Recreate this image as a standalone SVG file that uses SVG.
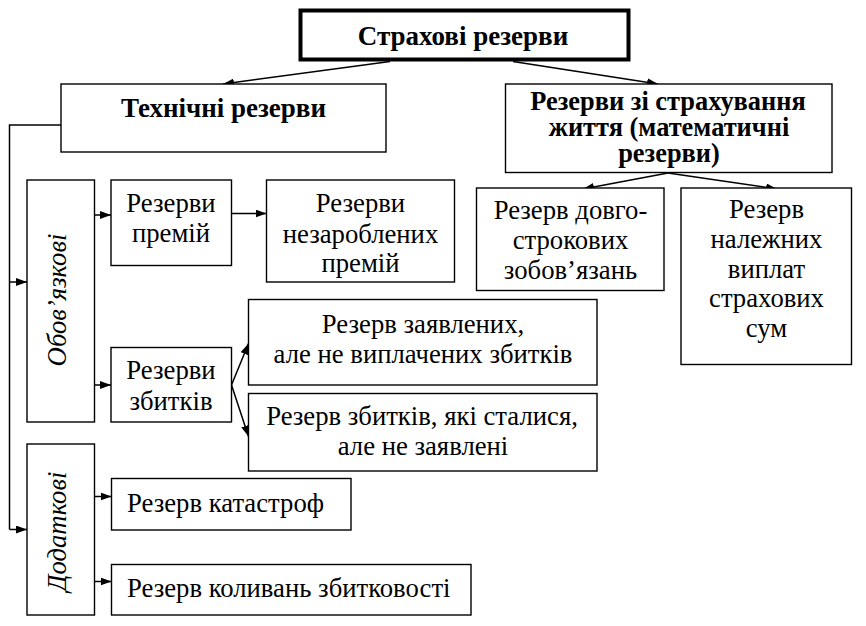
<svg xmlns="http://www.w3.org/2000/svg" width="866" height="626" viewBox="0 0 866 626">
<defs>
<marker id="ah" viewBox="0 0 11 8" refX="11" refY="4" markerWidth="11" markerHeight="8" markerUnits="userSpaceOnUse" orient="auto">
<path d="M0,0 L11,4 L0,8 Z" fill="#000"/>
</marker>
</defs>
<style>
.b{fill:#fff;stroke:#000;stroke-width:1.4}
.t{font-family:"Liberation Serif","Times New Roman","DejaVu Serif",serif;font-size:26.7px;fill:#000;text-anchor:middle}
.l{text-anchor:start}
.i{font-style:italic}
.bd{font-weight:bold;font-size:27px}
.bs{font-size:26.4px}
.c{fill:none;stroke:#000;stroke-width:1.5}
.a{marker-end:url(#ah)}
</style>
<rect width="866" height="626" fill="#fff"/>
<g id="connectors">
<line class="c a" x1="390" y1="61.5" x2="223" y2="84"/>
<line class="c a" x1="513" y1="61.5" x2="658" y2="84"/>
<polyline class="c" points="61,125 9.5,125 9.5,529.5"/>
<line class="c a" x1="9.5" y1="282" x2="27" y2="282"/>
<line class="c a" x1="9.5" y1="529.5" x2="27" y2="529.5"/>
<line class="c a" x1="94.5" y1="215" x2="111" y2="215"/>
<line class="c a" x1="231.5" y1="213.5" x2="266.5" y2="213.5"/>
<line class="c a" x1="94.5" y1="385" x2="111" y2="385"/>
<line class="c a" x1="231.5" y1="385" x2="248.5" y2="343.5"/>
<line class="c a" x1="231.5" y1="385" x2="248.5" y2="436.5"/>
<line class="c a" x1="94.5" y1="496.5" x2="111.5" y2="496.5"/>
<line class="c a" x1="94.5" y1="581.5" x2="111.5" y2="581.5"/>
<line class="c a" x1="668" y1="173" x2="583" y2="189"/>
<line class="c a" x1="668" y1="173" x2="777" y2="189"/>
</g>
<g id="root">
<rect x="300.5" y="10.5" width="328" height="49" fill="#fff" stroke="#000" stroke-width="4"/>
<text class="t bd" x="463" y="45">Страхові резерви</text>
</g>
<g id="technical">
<rect class="b" x="61" y="84" width="325" height="68"/>
<text class="t bd" x="223.5" y="117">Технічні резерви</text>
</g>
<g id="life">
<rect class="b" x="505.5" y="84" width="326.5" height="88.5"/>
<text class="t bd bs"><tspan x="668" y="109.5">Резерви зі страхування</tspan><tspan x="669" y="135.5">життя (математичні</tspan><tspan x="669" y="161.5">резерви)</tspan></text>
</g>
<g id="mandatory">
<rect class="b" x="27" y="180" width="67.5" height="242"/>
<text class="t i" transform="translate(66,300) rotate(-90)">Обов’язкові</text>
</g>
<g id="additional">
<rect class="b" x="27" y="444" width="67.5" height="171"/>
<text class="t i" transform="translate(66,531.5) rotate(-90)">Додаткові</text>
</g>
<g id="premiums">
<rect class="b" x="111" y="180" width="120.5" height="85.5"/>
<text class="t" x="171" y="211.5">Резерви</text>
<text class="t" x="171" y="241.5">премій</text>
</g>
<g id="unearned">
<rect class="b" x="266.5" y="180" width="188" height="102"/>
<text class="t" x="360.5" y="211.5">Резерви</text>
<text class="t" x="360.5" y="242.5">незароблених</text>
<text class="t" x="360.5" y="272">премій</text>
</g>
<g id="losses">
<rect class="b" x="111" y="347.5" width="120.5" height="74.5"/>
<text class="t" x="171" y="378.5">Резерви</text>
<text class="t" x="171" y="409.5">збитків</text>
</g>
<g id="reported">
<rect class="b" x="248.5" y="299.5" width="348.5" height="85.5"/>
<text class="t" x="423" y="333">Резерв заявлених,</text>
<text class="t" x="423" y="363">але не виплачених збитків</text>
</g>
<g id="ibnr">
<rect class="b" x="248.5" y="393.5" width="348.5" height="77.5"/>
<text class="t" x="422" y="425">Резерв збитків, які сталися,</text>
<text class="t" x="423" y="455">але не заявлені</text>
</g>
<g id="catastrophe">
<rect class="b" x="111.5" y="478.5" width="239.5" height="51.5"/>
<text class="t l" x="127" y="511.5">Резерв катастроф</text>
</g>
<g id="fluctuation">
<rect class="b" x="111.5" y="564.5" width="359.5" height="50.5"/>
<text class="t l" x="127" y="596.5">Резерв коливань збитковості</text>
</g>
<g id="longterm">
<rect class="b" x="476.5" y="188" width="187.5" height="102.5"/>
<text class="t" x="570.5" y="218.5">Резерв довго-</text>
<text class="t" x="570.5" y="249">строкових</text>
<text class="t" x="570.5" y="278.5">зобов’язань</text>
</g>
<g id="due">
<rect class="b" x="681" y="188" width="170.5" height="176.5"/>
<text class="t" x="766.5" y="218">Резерв</text>
<text class="t" x="766.5" y="248">належних</text>
<text class="t" x="766.5" y="277.5">виплат</text>
<text class="t" x="766.5" y="307">страхових</text>
<text class="t" x="766.5" y="337">сум</text>
</g>
</svg>
